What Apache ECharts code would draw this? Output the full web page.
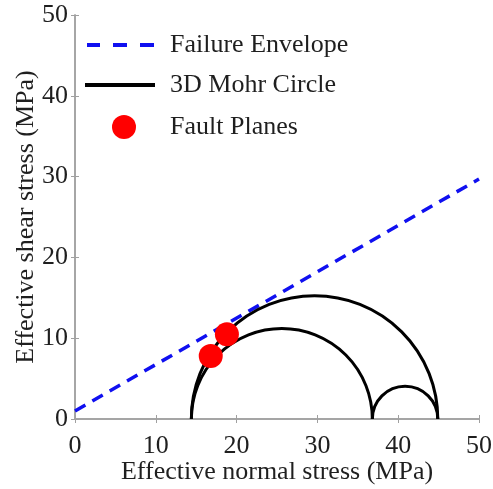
<!DOCTYPE html>
<html>
<head>
<meta charset="utf-8">
<script src="https://cdn.jsdelivr.net/npm/echarts@6/dist/echarts.min.js"></script>
<style>
html,body{margin:0;padding:0;background:#fff;}
#chart{width:493px;height:489px;}
</style>
</head>
<body>
<div id="chart"></div>
<script>
// ---- data ----
var xTicks = [0, 10, 20, 30, 40, 50];
var yTicks = [0, 10, 20, 30, 40, 50];
var envelopeX = [0, 50];
var envelopeY = [1.0, 29.7];
// principal effective stresses (MPa): sigma3, sigma2, sigma1
var principalStresses = [14.4, 36.8, 44.9];
var faultX = [16.8, 18.8];
var faultY = [7.8, 10.5];

// ---- build ----
var s3 = principalStresses[0], s2 = principalStresses[1], s1 = principalStresses[2];
var circlePairs = [[s3, s1], [s3, s2], [s2, s1]];
var circleData = circlePairs.map(function (p) { return [(p[0] + p[1]) / 2, (p[1] - p[0]) / 2]; });
var envelopeData = envelopeX.map(function (x, i) { return [x, envelopeY[i]]; });
var faultData = faultX.map(function (x, i) { return [x, faultY[i]]; });

var FONT = 'Liberation Serif';
var TXT = '#1f1f1f';
var AX = '#a0a0a0';

var chart = echarts.init(document.getElementById('chart'));
function legendText(padLeft) {
  return { fontFamily: FONT, fontSize: 26, color: TXT, lineHeight: 28, padding: [0, 0, 0, padLeft] };
}
var option = {
  animation: false,
  backgroundColor: '#fff',
  grid: { left: 75, right: 14, top: 15, bottom: 70, outerBoundsMode: 'none', containLabel: false },
  legend: [
    { data: [{ name: 'Failure Envelope', icon: 'path://M0,0h13v4h-13z M26,0h14v4h-14z M53,0h14v4h-14z',
        itemStyle: { color: '#1010f0' } }],
      left: 87, top: 31, itemWidth: 67, itemHeight: 4, selectedMode: false,
      padding: 0, textStyle: legendText(11) },
    { data: [{ name: '3D Mohr Circle', icon: 'rect', itemStyle: { color: '#000' } }], left: 85, top: 71,
      itemWidth: 70, itemHeight: 4, selectedMode: false, padding: 0, textStyle: legendText(10) },
    { data: [{ name: 'Fault Planes', icon: 'circle', itemStyle: { color: '#ff0000' } }], left: 112, top: 113,
      itemWidth: 24, itemHeight: 24, selectedMode: false, padding: 0, textStyle: legendText(29) }
  ],
  xAxis: [
    { type: 'value', position: 'bottom', min: xTicks[0], max: xTicks[xTicks.length - 1], interval: 10,
      name: 'Effective normal stress (MPa)', nameLocation: 'middle', nameGap: 40, nameMoveOverlap: false,
      nameTextStyle: { fontFamily: FONT, fontSize: 26, color: TXT },
      axisLine: { show: true, lineStyle: { color: AX, width: 1.5 } },
      axisTick: { show: true, inside: true, length: 4, lineStyle: { color: AX } },
      axisLabel: { fontFamily: FONT, fontSize: 26, color: TXT, margin: 14 },
      splitLine: { show: false } },
    { type: 'value', position: 'top', min: 0, max: 50, interval: 10,
      axisLine: { show: true, lineStyle: { color: AX, width: 1.5 } },
      axisTick: { show: true, inside: true, length: 4, lineStyle: { color: AX } },
      axisLabel: { show: false }, splitLine: { show: false } }
  ],
  yAxis: [
    { type: 'value', position: 'left', min: yTicks[0], max: yTicks[yTicks.length - 1], interval: 10,
      name: 'Effective shear stress (MPa)', nameLocation: 'middle', nameGap: 36, nameMoveOverlap: false,
      nameTextStyle: { fontFamily: FONT, fontSize: 26, color: TXT },
      axisLine: { show: true, lineStyle: { color: AX, width: 1.5 } },
      axisTick: { show: true, inside: true, length: 4, lineStyle: { color: AX } },
      axisLabel: { fontFamily: FONT, fontSize: 26, color: TXT, margin: 7 },
      splitLine: { show: false } },
    { type: 'value', position: 'right', min: 0, max: 50, interval: 10,
      axisLine: { show: true, lineStyle: { color: AX, width: 1.5 } },
      axisTick: { show: true, inside: true, length: 4, lineStyle: { color: AX } },
      axisLabel: { show: false }, splitLine: { show: false } }
  ],
  series: [
    { name: 'Failure Envelope', type: 'line', data: envelopeData, symbol: 'none', z: 2,
      itemStyle: { color: '#1010f0' },
      lineStyle: { color: '#1010f0', width: 3.5, type: [12, 8] } },
    { name: '3D Mohr Circle', type: 'custom', data: circleData, z: 3,
      itemStyle: { color: '#000' },
      renderItem: function (params, api) {
        var c = api.value(0), r = api.value(1);
        var p = api.coord([c, 0]);
        var rp = api.size([r, 0])[0];
        return { type: 'arc',
          shape: { cx: p[0], cy: p[1], r: rp, startAngle: Math.PI, endAngle: 2 * Math.PI, clockwise: true },
          style: { stroke: '#000', lineWidth: 3, fill: 'none' } };
      } },
    { name: 'Fault Planes', type: 'scatter', data: faultData, symbol: 'circle', symbolSize: 24, z: 4,
      itemStyle: { color: '#ff0000', opacity: 1 } }
  ]
};
chart.setOption(option);
</script>
</body>
</html>
